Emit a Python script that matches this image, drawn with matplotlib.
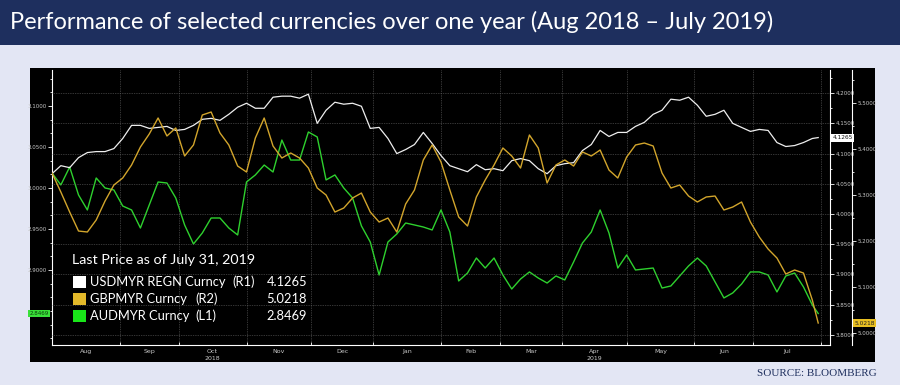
import numpy as np
import pandas as pd
import matplotlib
matplotlib.use('Agg')
import matplotlib.pyplot as plt
from matplotlib.patches import Rectangle
from matplotlib.ticker import MultipleLocator, FixedLocator, NullFormatter

days = pd.bdate_range('2018-08-01', '2019-07-31')
sample_idx = np.r_[np.arange(0, len(days) - 1, 3), len(days) - 1]

# USDMYR (right axis 1)
usd = [4.0667, 4.0800, 4.0767, 4.0933, 4.1017, 4.1033, 4.1033, 4.1083, 4.1250, 4.1467,
       4.1467, 4.1417, 4.1433, 4.1450, 4.1383, 4.1400, 4.1467, 4.1567, 4.1583, 4.1550,
       4.1650, 4.1767, 4.1833, 4.1750, 4.1750, 4.1933, 4.1950, 4.1950, 4.1917, 4.1983,
       4.1500, 4.1717, 4.1850, 4.1817, 4.1833, 4.1783, 4.1417, 4.1433, 4.1250, 4.1000,
       4.1067, 4.1150, 4.1350, 4.1167, 4.0967, 4.0800, 4.0750, 4.0700, 4.0817, 4.0733,
       4.0750, 4.0717, 4.0883, 4.0917, 4.0883, 4.0750, 4.0667, 4.0800, 4.0833, 4.0850,
       4.1050, 4.1150, 4.1383, 4.1283, 4.1350, 4.1350, 4.1450, 4.1517, 4.1650, 4.1717,
       4.1900, 4.1883, 4.1933, 4.1800, 4.1617, 4.1650, 4.1717, 4.1500, 4.1433, 4.1367,
       4.1400, 4.1383, 4.1183, 4.1117, 4.1133, 4.1183, 4.1250, 4.1265]

# GBPMYR (right axis 2)
gbp = [5.3478, 5.3065, 5.2630, 5.2217, 5.2196, 5.2457, 5.2870, 5.3217, 5.3370, 5.3652,
       5.4043, 5.4326, 5.4674, 5.4283, 5.4457, 5.3848, 5.4087, 5.4739, 5.4804, 5.4348,
       5.4087, 5.3630, 5.3500, 5.4239, 5.4674, 5.4065, 5.3804, 5.3913, 5.3804, 5.3587,
       5.3152, 5.3000, 5.2630, 5.2717, 5.2935, 5.3043, 5.2630, 5.2413, 5.2500, 5.2196,
       5.2804, 5.3109, 5.3761, 5.4087, 5.3717, 5.3109, 5.2522, 5.2326, 5.2957, 5.3326,
       5.3652, 5.4022, 5.3848, 5.3587, 5.4304, 5.4022, 5.3261, 5.3652, 5.3761, 5.3630,
       5.3935, 5.3848, 5.3978, 5.3543, 5.3370, 5.3826, 5.4087, 5.4130, 5.4065, 5.3478,
       5.3152, 5.3217, 5.2978, 5.2848, 5.2957, 5.2978, 5.2674, 5.2739, 5.2848, 5.2413,
       5.2087, 5.1826, 5.1630, 5.1283, 5.1370, 5.1304, 5.0717, 5.0218]

# AUDMYR (left axis)
aud = [3.0183, 3.0037, 3.0256, 2.9915, 2.9732, 3.0122, 3.0000, 2.9976, 2.9780, 2.9732,
       2.9512, 2.9793, 3.0073, 3.0061, 2.9878, 2.9549, 2.9317, 2.9451, 2.9634, 2.9634,
       2.9512, 2.9427, 3.0073, 3.0159, 3.0280, 3.0195, 3.0585, 3.0341, 3.0341, 3.0683,
       3.0622, 3.0098, 3.0159, 3.0000, 2.9878, 2.9537, 2.9341, 2.8939, 2.9341, 2.9439,
       2.9573, 2.9549, 2.9524, 2.9488, 2.9732, 2.9463, 2.8866, 2.8963, 2.9146, 2.9024,
       2.9146, 2.8939, 2.8768, 2.8890, 2.8976, 2.8902, 2.8841, 2.8927, 2.8878, 2.9098,
       2.9329, 2.9463, 2.9732, 2.9451, 2.9024, 2.9183, 2.9000, 2.9012, 2.9024, 2.8780,
       2.8805, 2.8927, 2.9049, 2.9146, 2.9049, 2.8854, 2.8659, 2.8720, 2.8829, 2.8976,
       2.8976, 2.8939, 2.8732, 2.8927, 2.8963, 2.8793, 2.8573, 2.8469]

month_labels = ['Aug', 'Sep', 'Oct', 'Nov', 'Dec', 'Jan', 'Feb', 'Mar', 'Apr', 'May', 'Jun', 'Jul']
aud_ticks = [2.90, 2.95, 3.00, 3.05, 3.10]
legend_names = ['USDMYR REGN Curncy', 'GBPMYR Curncy', 'AUDMYR Curncy']
legend_axes = ['(R1)', '(R2)', '(L1)']
legend_last = ['4.1265', '5.0218', '2.8469']

NAVY = '#1e2f5e'
BG = '#e3e6f4'
WHITE_LINE = '#eeeeee'
GOLD = '#d2a52c'
GREEN = '#2ed12e'
TICK_C = '#c8c8c8'
W, H = 900, 385


def fx(x):
    return x / W


def fy(y):
    return 1 - y / H


fig = plt.figure(figsize=(9, 3.85), dpi=100, facecolor=BG)

# header band and black chart panel (behind the axes)
fig.patches.append(Rectangle((0, fy(45)), 1, 45 / H, transform=fig.transFigure,
                             facecolor=NAVY, edgecolor='none', zorder=-2))
fig.patches.append(Rectangle((fx(30), fy(362)), 845 / W, 294 / H, transform=fig.transFigure,
                             facecolor='black', edgecolor='none', zorder=-2))
fig.text(fx(10), fy(22), 'Performance of selected currencies over one year (Aug 2018 \u2013 July 2019)',
         color='white', fontsize=17, family='Lato', va='center', ha='left')
fig.text(fx(877), fy(373), 'SOURCE: BLOOMBERG', color=NAVY, fontsize=8,
         family='Liberation Serif', va='center', ha='right')

ax = fig.add_axes([fx(52), fy(345), 778 / W, 275 / H])
ax.set_facecolor('black')
r1 = ax.twinx()
r2 = ax.twinx()
r2.spines['right'].set_position(('axes', (852 - 52) / 778))

t = sample_idx
r2.plot(t, gbp, color=GOLD, lw=1.0, zorder=2)
ax.plot(t, aud, color=GREEN, lw=1.0, zorder=2)
r1.plot(t, usd, color=WHITE_LINE, lw=0.9, zorder=3)

ax.set_xlim(0, 264)
ax.set_ylim(2.8085, 3.1439)
r1.set_ylim(3.7833, 4.2383)
r2.set_ylim(4.974, 5.5717)

# month boundaries and mid-month labels
month_pos = [0] + [i for i in range(1, len(days)) if days[i].month != days[i - 1].month] + [len(days)]
mid_pos = [(a + b) / 2 for a, b in zip(month_pos[:-1], month_pos[1:])]
ax.xaxis.set_major_locator(FixedLocator(month_pos))
ax.xaxis.set_major_formatter(NullFormatter())
ax.xaxis.set_minor_locator(FixedLocator(mid_pos))
ax.set_xticklabels(month_labels, minor=True)
ax.tick_params(axis='x', which='major', length=2, color='white', direction='in', width=0.6)
ax.tick_params(axis='x', which='minor', length=0, labelsize=4.5, labelcolor=TICK_C, pad=3)
ax.text(mid_pos[2], -0.048, '2018', transform=ax.get_xaxis_transform(), ha='center', va='center',
        fontsize=4.5, color=TICK_C)
ax.text(mid_pos[8], -0.048, '2019', transform=ax.get_xaxis_transform(), ha='center', va='center',
        fontsize=4.5, color=TICK_C)
for p in month_pos[1:]:
    ax.axvline(p, color='#6a6a6a', lw=0.5, ls=(0, (1, 1.5)), zorder=1)

# horizontal grid follows R1 ticks
for v in np.arange(3.80, 4.201, 0.05):
    r1.axhline(v, color='#6a6a6a', lw=0.5, ls=(0, (1, 1.5)), zorder=1)

ax.yaxis.set_major_locator(FixedLocator(aud_ticks))
ax.yaxis.set_minor_locator(MultipleLocator(0.05 / 3))
ax.yaxis.set_major_formatter(lambda v, p: f'{v:.4f}')
ax.tick_params(axis='y', which='both', colors='white', labelcolor=TICK_C, labelsize=4, width=0.6)
ax.tick_params(axis='y', which='major', length=3, pad=1)
ax.tick_params(axis='y', which='minor', length=1.5)

r1.yaxis.set_major_locator(MultipleLocator(0.05))
r1.yaxis.set_minor_locator(MultipleLocator(0.025))
r1.yaxis.set_major_formatter(lambda v, p: f'{v:.4f}')
r1.tick_params(axis='y', which='both', colors='white', labelcolor=TICK_C, labelsize=4, width=0.6)
r1.tick_params(axis='y', which='major', length=3, pad=1)
r1.tick_params(axis='y', which='minor', length=1.5)

r2.yaxis.set_major_locator(MultipleLocator(0.1))
r2.yaxis.set_minor_locator(MultipleLocator(0.05))
r2.yaxis.set_major_formatter(lambda v, p: f'{v:.4f}')
r2.tick_params(axis='y', which='both', colors='white', labelcolor=TICK_C, labelsize=4, width=0.6)
r2.tick_params(axis='y', which='major', length=3, pad=1)
r2.tick_params(axis='y', which='minor', length=1.5)

for a in (ax, r1, r2):
    a.spines['top'].set_visible(False)
    for s in ('left', 'right', 'bottom'):
        a.spines[s].set_color('white')
        a.spines[s].set_linewidth(0.8)
r1.spines['left'].set_visible(False)
r2.spines['left'].set_visible(False)
ax.spines['right'].set_visible(False)
r1.spines['bottom'].set_visible(False)
r2.spines['bottom'].set_visible(False)

# last-price tags
ax.text(-0.004, aud[-1], legend_last[2], transform=ax.get_yaxis_transform(), ha='right', va='center',
        fontsize=4, color='#0a3a0a', bbox=dict(boxstyle='square,pad=0.25', fc='#39e039', ec='none'))
r1.text(1.003, usd[-1], legend_last[0], transform=r1.get_yaxis_transform(), ha='left', va='center',
        fontsize=4.2, color='#111111', bbox=dict(boxstyle='square,pad=0.25', fc='white', ec='none'),
        zorder=5)
r2.text(1.031, gbp[-1], legend_last[1], transform=r2.get_yaxis_transform(), ha='left', va='center',
        fontsize=4.2, color='#222222', bbox=dict(boxstyle='square,pad=0.25', fc='#e8bf22', ec='none'),
        zorder=5)

# legend block
fig.text(fx(72), fy(260), 'Last Price as of July 31, 2019', color='white', fontsize=10.3,
         family='Lato', va='center', ha='left')
sq_colors = ['white', '#e3b92a', '#19e619']
rows = [282, 299, 316]
for c, y, name, tag, last in zip(sq_colors, rows, legend_names, legend_axes, legend_last):
    fig.patches.append(Rectangle((fx(73), fy(y + 6)), 13 / W, 12 / H, transform=fig.transFigure,
                                 facecolor=c, edgecolor='none', zorder=3))
    fig.text(fx(90), fy(y), name, color='white', fontsize=9.3, family='Lato', va='center', ha='left')
    fig.text(fx(232 if tag == '(R1)' else 195), fy(y), tag, color='white', fontsize=9.3,
             family='Lato', va='center', ha='left')
    fig.text(fx(307), fy(y), last, color='white', fontsize=9.3, family='Lato', va='center', ha='right')

fig.savefig('out.png', dpi=100, facecolor=BG)
